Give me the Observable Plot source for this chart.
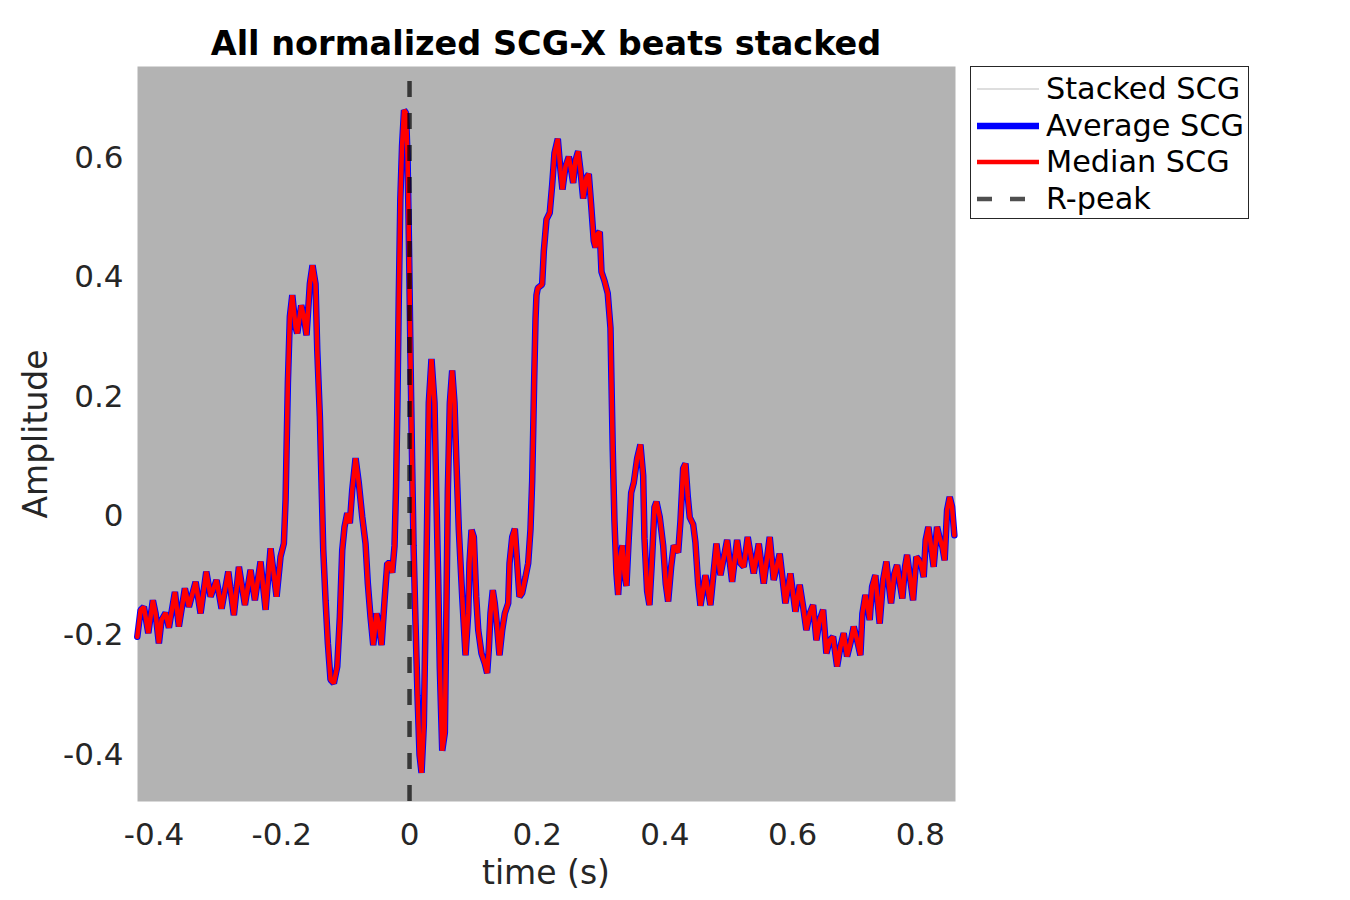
<!DOCTYPE html>
<html>
<head>
<meta charset="utf-8">
<script src="https://cdn.jsdelivr.net/npm/d3@7"></script>
<script src="https://cdn.jsdelivr.net/npm/@observablehq/plot@0.6"></script>
<style>
  body { margin: 0; background: #fff; font-family: "DejaVu Sans", sans-serif; }
  #wrap { position: relative; width: 1350px; height: 900px; }
  #title { position: absolute; left: 137px; width: 818px; top: 26px; text-align: center; font-weight: bold; font-size: 33.5px; line-height: 36px; color: #000; }
  #xlabel { position: absolute; left: 137px; width: 818px; top: 855px; text-align: center; font-size: 33px; line-height: 36px; color: #262626; }
  #ylabel { position: absolute; left: 36px; top: 434px; transform: translate(-50%, -50%) rotate(-90deg); font-size: 33px; line-height: 36px; color: #262626; white-space: nowrap; }
  #legend { position: absolute; left: 970px; top: 66px; width: 279px; height: 153px; border: 1px solid #262626; background: #fff; box-sizing: border-box; }
  .row { position: absolute; left: 0; height: 36px; width: 100%; }
  .row svg { position: absolute; left: 6px; top: 0; }
  .row span { position: absolute; left: 75px; top: 0; font-size: 30.3px; line-height: 36px; color: #000; white-space: nowrap; }
</style>
</head>
<body>
<div id="wrap">
  <div id="chart"></div>
  <div id="title"></div>
  <div id="xlabel"></div>
  <div id="ylabel"></div>
  <div id="legend"></div>
</div>
<script>
// ---- data ----
const titleText = "All normalized SCG-X beats stacked";
const xLabel = "time (s)";
const yLabel = "Amplitude";
const xDomain = [-0.426, 0.855];
const yDomain = [-0.478, 0.753];
const xTicks = [-0.4, -0.2, 0, 0.2, 0.4, 0.6, 0.8];
const yTicks = [-0.4, -0.2, 0, 0.2, 0.4, 0.6];
const rPeakTime = [0];

const timeSec = [
-0.4263,-0.4211,-0.4160,-0.4091,-0.4019,-0.3977,-0.3925,-0.3883,-0.3820,-0.3768,
-0.3674,-0.3612,-0.3518,-0.3455,-0.3350,-0.3272,-0.3183,-0.3115,-0.3022,-0.2943,
-0.2838,-0.2751,-0.2672,-0.2578,-0.2489,-0.2422,-0.2333,-0.2254,-0.2176,-0.2082,
-0.2020,-0.1968,-0.1941,-0.1926,-0.1905,-0.1874,-0.1836,-0.1785,-0.1758,-0.1696,
-0.1655,-0.1613,-0.1561,-0.1519,-0.1472,-0.1445,-0.1404,-0.1378,-0.1351,-0.1315,
-0.1279,-0.1237,-0.1185,-0.1132,-0.1091,-0.1054,-0.1018,-0.0975,-0.0935,-0.0897,
-0.0845,-0.0794,-0.0741,-0.0689,-0.0653,-0.0611,-0.0568,-0.0517,-0.0481,-0.0438,
-0.0391,-0.0349,-0.0308,-0.0271,-0.0235,-0.0211,-0.0191,-0.0169,-0.0144,-0.0117,
-0.0086,-0.0055,-0.0031,-0.0008,0.0016,0.0039,0.0063,0.0094,0.0125,0.0157,
0.0188,0.0224,0.0250,0.0277,0.0302,0.0344,0.0391,0.0418,0.0449,0.0474,
0.0512,0.0553,0.0575,0.0600,0.0631,0.0668,0.0704,0.0731,0.0772,0.0825,
0.0877,0.0919,0.0939,0.0971,0.1007,0.1044,0.1076,0.1127,0.1179,0.1216,
0.1241,0.1268,0.1304,0.1335,0.1367,0.1409,0.1451,0.1492,0.1545,0.1566,
0.1608,0.1649,0.1686,0.1722,0.1764,0.1816,0.1858,0.1894,0.1921,0.1937,
0.1952,0.1973,0.1988,0.2009,0.2077,0.2103,0.2145,0.2196,0.2234,0.2270,
0.2322,0.2364,0.2395,0.2442,0.2494,0.2532,0.2563,0.2599,0.2641,0.2677,
0.2719,0.2771,0.2807,0.2845,0.2885,0.2912,0.2948,0.2979,0.3006,0.3053,
0.3104,0.3147,0.3162,0.3183,0.3209,0.3241,0.3267,0.3303,0.3335,0.3366,
0.3397,0.3433,0.3471,0.3512,0.3565,0.3616,0.3659,0.3679,0.3721,0.3757,
0.3800,0.3836,0.3867,0.3919,0.3972,0.4013,0.4050,0.4097,0.4138,0.4207,
0.4243,0.4285,0.4321,0.4357,0.4388,0.4442,0.4477,0.4520,0.4556,0.4634,
0.4712,0.4806,0.4869,0.4974,0.5052,0.5130,0.5182,0.5234,0.5296,0.5390,
0.5469,0.5547,0.5641,0.5703,0.5797,0.5886,0.5965,0.6043,0.6110,0.6164,
0.6215,0.6267,0.6320,0.6372,0.6423,0.6477,0.6528,0.6580,0.6633,0.6696,
0.6748,0.6799,0.6852,0.6904,0.6956,0.7009,0.7061,0.7092,0.7139,0.7175,
0.7206,0.7244,0.7295,0.7332,0.7363,0.7416,0.7468,0.7510,0.7541,0.7593,
0.7635,0.7687,0.7718,0.7760,0.7792,0.7843,0.7886,0.7937,0.7980,0.8020,
0.8052,0.8083,0.8125,0.8167,0.8208,0.8261,0.8302,0.8344,0.8380,0.8418,
0.8459,0.8496,0.8532
];

const medianSCG = [
-0.202,-0.157,-0.152,-0.196,-0.141,-0.163,-0.213,-0.174,-0.162,-0.187,
-0.127,-0.185,-0.121,-0.152,-0.110,-0.163,-0.093,-0.135,-0.107,-0.155,
-0.093,-0.166,-0.085,-0.149,-0.090,-0.141,-0.076,-0.157,-0.054,-0.135,
-0.068,-0.046,0.027,0.110,0.223,0.334,0.370,0.317,0.306,0.353,
0.334,0.303,0.389,0.420,0.389,0.278,0.166,0.055,-0.057,-0.141,
-0.213,-0.274,-0.280,-0.252,-0.169,-0.057,-0.018,0.005,-0.012,0.044,
0.097,0.055,-0.001,-0.046,-0.113,-0.169,-0.216,-0.163,-0.180,-0.216,
-0.141,-0.079,-0.079,-0.095,-0.050,0.050,0.180,0.360,0.530,0.620,
0.680,0.675,0.600,0.450,0.260,0.100,-0.050,-0.180,-0.300,-0.400,
-0.430,-0.350,-0.180,0.005,0.190,0.263,0.190,0.042,-0.105,-0.253,
-0.393,-0.363,-0.179,0.042,0.189,0.244,0.190,0.100,-0.023,-0.135,
-0.233,-0.163,-0.079,-0.023,-0.035,-0.135,-0.191,-0.230,-0.247,-0.263,
-0.224,-0.163,-0.124,-0.146,-0.180,-0.233,-0.191,-0.163,-0.146,-0.079,
-0.035,-0.021,-0.079,-0.135,-0.129,-0.102,-0.079,-0.023,0.060,0.144,
0.228,0.330,0.370,0.382,0.388,0.444,0.497,0.508,0.555,0.608,
0.632,0.579,0.547,0.585,0.602,0.579,0.558,0.596,0.611,0.579,
0.532,0.567,0.573,0.520,0.461,0.450,0.473,0.476,0.409,0.394,
0.373,0.315,0.227,0.109,-0.008,-0.096,-0.132,-0.067,-0.049,-0.096,
-0.117,-0.037,0.039,0.056,0.097,0.120,0.068,-0.037,-0.126,-0.149,
-0.067,0.015,0.024,-0.002,-0.049,-0.114,-0.143,-0.085,-0.049,-0.061,
-0.008,0.080,0.088,0.033,-0.002,-0.014,-0.044,-0.114,-0.150,-0.099,
-0.149,-0.046,-0.099,-0.040,-0.110,-0.040,-0.079,-0.085,-0.035,-0.096,
-0.046,-0.113,-0.035,-0.107,-0.063,-0.146,-0.096,-0.160,-0.115,-0.152,
-0.191,-0.163,-0.149,-0.208,-0.174,-0.157,-0.230,-0.208,-0.202,-0.252,
-0.219,-0.196,-0.235,-0.213,-0.185,-0.208,-0.233,-0.163,-0.132,-0.152,
-0.174,-0.118,-0.099,-0.146,-0.180,-0.107,-0.076,-0.118,-0.146,-0.096,
-0.082,-0.118,-0.138,-0.085,-0.065,-0.107,-0.141,-0.068,-0.074,-0.085,
-0.102,-0.040,-0.018,-0.051,-0.085,-0.018,-0.037,-0.051,-0.074,0.010,
0.032,0.016,-0.032
];
// The average beat is visually indistinguishable from the median beat
const averageSCG = medianSCG.slice();

const legendLabels = ["Stacked SCG", "Average SCG", "Median SCG", "R-peak"];
const legendColors = ["#bdbdbd", "#0000ff", "#ff0000", "#000000"];

// ---- build ----
const beats = timeSec.map((t, i) => ({t, avg: averageSCG[i], med: medianSCG[i]}));
const fmt = d => String(d);

const chart = Plot.plot({
  width: 1350,
  height: 900,
  marginLeft: 137,
  marginRight: 395,
  marginTop: 66,
  marginBottom: 99,
  style: {fontFamily: "DejaVu Sans, sans-serif", fontSize: "31px", color: "#262626", background: "transparent", overflow: "visible"},
  x: {domain: xDomain},
  y: {domain: yDomain},
  marks: [
    Plot.frame({fill: "#b3b3b3", stroke: "none"}),
    Plot.axisX({ticks: xTicks, tickSize: 0, tickPadding: 21, tickFormat: fmt, label: null, fontSize: 31}),
    Plot.axisY({ticks: yTicks, tickSize: 0, tickPadding: 14, tickFormat: fmt, label: null, fontSize: 31}),
    Plot.line(beats, {x: "t", y: "avg", stroke: legendColors[1], strokeWidth: 6.5, strokeLinejoin: "miter"}),
    Plot.line(beats, {x: "t", y: "med", stroke: legendColors[2], strokeWidth: 4.5, strokeLinejoin: "miter"}),
    Plot.ruleX(rPeakTime, {y1: yDomain[0], y2: yDomain[1], stroke: legendColors[3], strokeOpacity: 0.69, strokeWidth: 4.5, strokeDasharray: "16,16"})
  ]
});
document.getElementById("chart").appendChild(chart);

document.getElementById("title").textContent = titleText;
document.getElementById("xlabel").textContent = xLabel;
document.getElementById("ylabel").textContent = yLabel;

// legend
const legend = document.getElementById("legend");
const rowCenters = [22, 59, 95, 132];
const samples = [
  {w: 1, dash: null, op: 1},
  {w: 6.5, dash: null, op: 1},
  {w: 4.5, dash: null, op: 1},
  {w: 4.5, dash: "15,18", op: 0.69}
];
legendLabels.forEach((lab, i) => {
  const row = document.createElement("div");
  row.className = "row";
  row.style.top = (rowCenters[i] - 18) + "px";
  const s = samples[i];
  row.innerHTML = `<svg width="64" height="36"><line x1="0" x2="62" y1="18" y2="18" stroke="${legendColors[i]}" stroke-opacity="${s.op}" stroke-width="${s.w}" ${s.dash ? `stroke-dasharray="${s.dash}"` : ""}/></svg><span>${lab}</span>`;
  legend.appendChild(row);
});
</script>
</body>
</html>
